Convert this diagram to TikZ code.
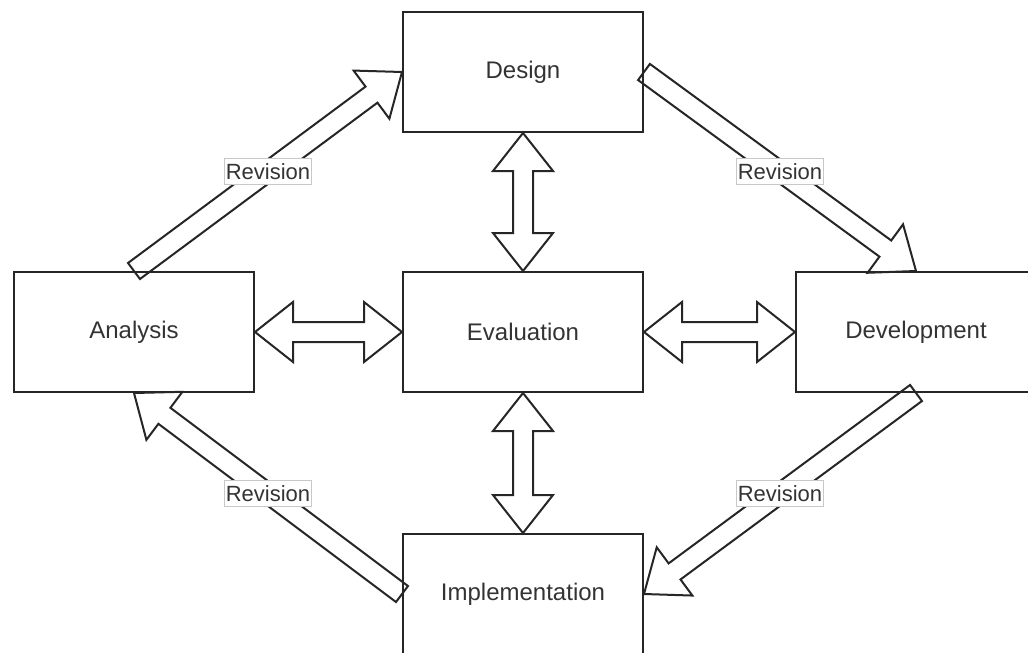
\documentclass[tikz,border=0pt]{standalone}
\usepackage{fontspec}
\setmainfont{Liberation Sans}
\usetikzlibrary{calc,backgrounds}
\definecolor{txt}{HTML}{333333}
\definecolor{edge}{HTML}{262626}
\definecolor{lblborder}{HTML}{C8C8C8}
% single-headed block arrow from #1 (tail) to #2 (tip)
\newcommand{\flexar}[2]{%
  \draw[flexstyle]
    ($(#1)!7.5pt!90:(#2)$)
    -- ($(#2)!28.5pt!(#1)!7.5pt!90:(#2)$)
    -- ($(#2)!28.5pt!(#1)!22.5pt!90:(#2)$)
    -- (#2)
    -- ($(#2)!28.5pt!(#1)!22.5pt!-90:(#2)$)
    -- ($(#2)!28.5pt!(#1)!7.5pt!-90:(#2)$)
    -- ($(#1)!7.5pt!-90:(#2)$)
    -- cycle;}
% double-headed block arrow between #1 and #2
\newcommand{\dflexar}[2]{%
  \draw[flexstyle]
    (#1)
    -- ($(#1)!28.5pt!(#2)!22.5pt!90:(#2)$)
    -- ($(#1)!28.5pt!(#2)!7.5pt!90:(#2)$)
    -- ($(#2)!28.5pt!(#1)!7.5pt!90:(#2)$)
    -- ($(#2)!28.5pt!(#1)!22.5pt!90:(#2)$)
    -- (#2)
    -- ($(#2)!28.5pt!(#1)!22.5pt!-90:(#2)$)
    -- ($(#2)!28.5pt!(#1)!7.5pt!-90:(#2)$)
    -- ($(#1)!28.5pt!(#2)!7.5pt!-90:(#2)$)
    -- ($(#1)!28.5pt!(#2)!22.5pt!-90:(#2)$)
    -- cycle;}
\tikzset{
  box/.style={draw=edge, line width=1.5pt, minimum width=180pt, minimum height=90pt,
    inner sep=0pt, text=txt, font=\fontsize{18}{22}\selectfont},
  flexstyle/.style={draw=edge, fill=white, line width=1.5pt, line join=miter},
  lbl/.style={draw=lblborder, fill=white, line width=0.75pt, text=txt,
    inner xsep=1pt, inner ysep=0pt, minimum height=19.5pt,
    font=\fontsize{16.5}{19}\selectfont}
}
\begin{document}
\begin{tikzpicture}[x=0.75pt, y=-0.75pt]
\useasboundingbox (0,0) rectangle (1028,653);
\clip (0,0) rectangle (1028,653);
% boxes
\node[box] (design) at (523,72) {Design};
\node[box] (analysis) at (134,332) {Analysis};
\node[box] (evaluation) at (523,332) {Evaluation};
\node[box] (development) at (916,332) {Development};
\node[box] (implementation) at (523,594) {Implementation};
% arrows, beneath the boxes
\begin{scope}[on background layer]
\flexar{analysis.north}{design.west}
\flexar{design.east}{development.north}
\flexar{development.south}{implementation.east}
\flexar{implementation.west}{analysis.south}
\dflexar{design.south}{evaluation.north}
\dflexar{analysis.east}{evaluation.west}
\dflexar{evaluation.east}{development.west}
\dflexar{evaluation.south}{implementation.north}
\end{scope}
% labels
\path (analysis.north) -- (design.west) node[midway, lbl] (lab1) {Revision};
\path (design.east) -- (development.north) node[midway, lbl] (lab2) {Revision};
\path (development.south) -- (implementation.east) node[midway, lbl] (lab3) {Revision};
\path (implementation.west) -- (analysis.south) node[midway, lbl] (lab4) {Revision};
\end{tikzpicture}
\end{document}
